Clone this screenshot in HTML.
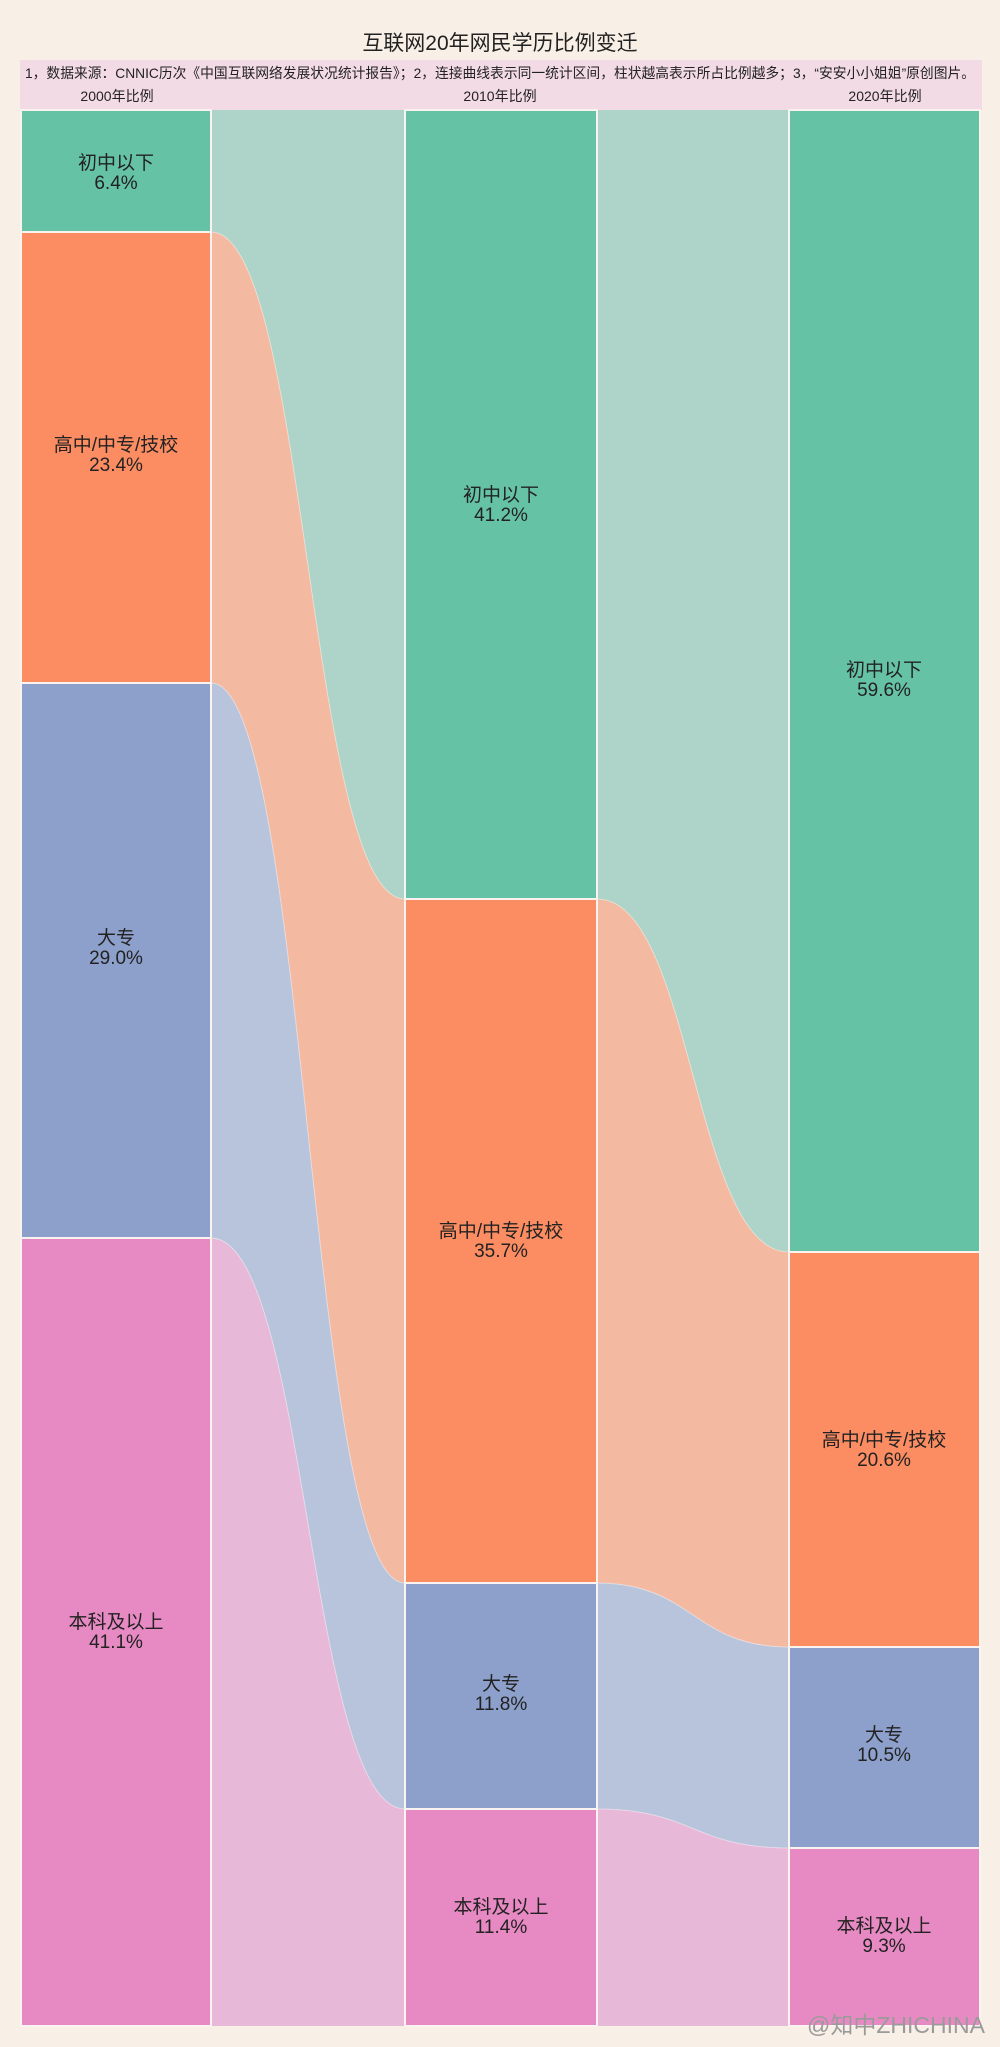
<!DOCTYPE html>
<html><head><meta charset="utf-8"><style>
body{margin:0;background:#f8efe6;}
svg{display:block;font-family:"Liberation Sans","Noto Sans CJK SC",sans-serif;}
</style></head><body>
<svg width="1000" height="2047" viewBox="0 0 1000 2047">
<rect width="1000" height="2047" fill="#f8efe6"/>
<text x="500" y="50" text-anchor="middle" font-size="21" fill="#222">互联网20年网民学历比例变迁</text>
<rect x="20" y="60" width="962" height="50" fill="#f3dbe5"/>
<text x="500" y="78" text-anchor="middle" font-size="14" fill="#222" textLength="950" lengthAdjust="spacingAndGlyphs">1，数据来源：CNNIC历次《中国互联网络发展状况统计报告》；2，连接曲线表示同一统计区间，柱状越高表示所占比例越多；3，“安安小小姐姐”原创图片。</text>
<text x="117" y="101" text-anchor="middle" font-size="14" fill="#222">2000年比例</text>
<text x="500" y="101" text-anchor="middle" font-size="14" fill="#222">2010年比例</text>
<text x="885" y="101" text-anchor="middle" font-size="14" fill="#222">2020年比例</text>
<g>
<path d="M211,110 L405,110 L405,899 C308,899 308,232 211,232 Z" fill="#aed3c9"/>
<path d="M211,232 C308,232 308,899 405,899 L405,1583 C308,1583 308,683 211,683 Z" fill="#f4b9a1"/>
<path d="M211,683 C308,683 308,1583 405,1583 L405,1809 C308,1809 308,1238 211,1238 Z" fill="#b8c4dc"/>
<path d="M211,1238 C308,1238 308,1809 405,1809 L405,2026 L211,2026 Z" fill="#e8b8d8"/>
<path d="M211,232 C308,232 308,899 405,899 M211,683 C308,683 308,1583 405,1583 M211,1238 C308,1238 308,1809 405,1809" stroke="#fff" stroke-opacity="0.4" stroke-width="1" fill="none"/>
</g>
<g>
<path d="M597,110 L789,110 L789,1252 C693,1252 693,899 597,899 Z" fill="#aed3c9"/>
<path d="M597,899 C693,899 693,1252 789,1252 L789,1647 C693,1647 693,1583 597,1583 Z" fill="#f4b9a1"/>
<path d="M597,1583 C693,1583 693,1647 789,1647 L789,1848 C693,1848 693,1809 597,1809 Z" fill="#b8c4dc"/>
<path d="M597,1809 C693,1809 693,1848 789,1848 L789,2026 L597,2026 Z" fill="#e8b8d8"/>
<path d="M597,899 C693,899 693,1252 789,1252 M597,1583 C693,1583 693,1647 789,1647 M597,1809 C693,1809 693,1848 789,1848" stroke="#fff" stroke-opacity="0.4" stroke-width="1" fill="none"/>
</g>
<g stroke="#fbf3f0" stroke-width="2">
<rect x="21" y="110" width="190" height="122" fill="#66c2a5"/>
<rect x="21" y="232" width="190" height="451" fill="#fc8d62"/>
<rect x="21" y="683" width="190" height="555" fill="#8da0cb"/>
<rect x="21" y="1238" width="190" height="788" fill="#e78ac3"/>
<rect x="405" y="110" width="192" height="789" fill="#66c2a5"/>
<rect x="405" y="899" width="192" height="684" fill="#fc8d62"/>
<rect x="405" y="1583" width="192" height="226" fill="#8da0cb"/>
<rect x="405" y="1809" width="192" height="217" fill="#e78ac3"/>
<rect x="789" y="110" width="191" height="1142" fill="#66c2a5"/>
<rect x="789" y="1252" width="191" height="395" fill="#fc8d62"/>
<rect x="789" y="1647" width="191" height="201" fill="#8da0cb"/>
<rect x="789" y="1848" width="191" height="178" fill="#e78ac3"/>
</g>
<g font-size="19" text-anchor="middle" fill="#222">
<text x="116" y="169">初中以下</text><text x="116" y="189">6.4%</text>
<text x="116" y="451">高中/中专/技校</text><text x="116" y="471">23.4%</text>
<text x="116" y="944">大专</text><text x="116" y="964">29.0%</text>
<text x="116" y="1628">本科及以上</text><text x="116" y="1648">41.1%</text>
<text x="501" y="501">初中以下</text><text x="501" y="521">41.2%</text>
<text x="501" y="1237">高中/中专/技校</text><text x="501" y="1257">35.7%</text>
<text x="501" y="1690">大专</text><text x="501" y="1710">11.8%</text>
<text x="501" y="1913">本科及以上</text><text x="501" y="1933">11.4%</text>
<text x="884" y="676">初中以下</text><text x="884" y="696">59.6%</text>
<text x="884" y="1446">高中/中专/技校</text><text x="884" y="1466">20.6%</text>
<text x="884" y="1741">大专</text><text x="884" y="1761">10.5%</text>
<text x="884" y="1932">本科及以上</text><text x="884" y="1952">9.3%</text>
</g>
<text x="985" y="2033" text-anchor="end" font-size="23" fill="#9a9a9a">@知中ZHICHINA</text>
</svg>
</body></html>
